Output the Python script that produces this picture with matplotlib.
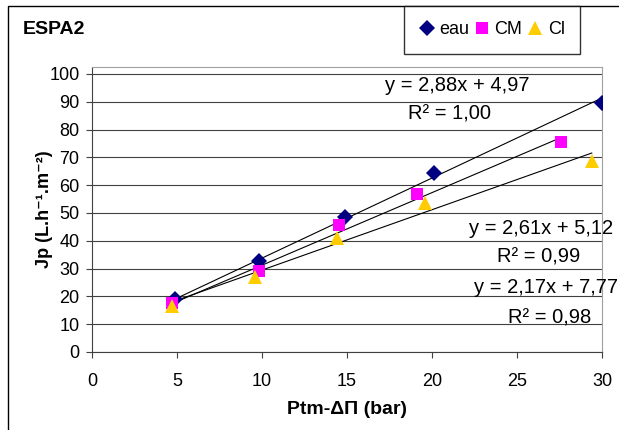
import numpy as np
import matplotlib
matplotlib.use("Agg")
import matplotlib.pyplot as plt
from matplotlib.patches import Rectangle

plt.rcParams['font.family'] = ['Liberation Sans', 'DejaVu Sans']

# data
series = ["eau", "CM", "Cl"]
x_eau = [4.9, 9.8, 14.9, 20.1, 30.0]
y_eau = [19.0, 32.9, 48.5, 64.4, 89.6]
x_cm = [4.7, 9.8, 14.5, 19.1, 27.6]
y_cm = [17.8, 29.2, 45.8, 56.7, 75.6]
x_cl = [4.7, 9.6, 14.4, 19.6, 29.4]
y_cl = [16.6, 26.8, 41.0, 53.5, 68.8]

slopes = [2.88, 2.61, 2.17]
intercepts = [4.97, 5.12, 7.77]
eq_labels = ["y = 2,88x + 4,97", "y = 2,61x + 5,12", "y = 2,17x + 7,77"]
r2_labels = ["R² = 1,00", "R² = 0,99", "R² = 0,98"]

colors = ["#000080", "#FF00FF", "#FFCC00"]
markers = ["D", "s", "^"]
msizes = [8, 8, 10]

fig = plt.figure(figsize=(6.19, 4.30), dpi=100)
ax = fig.add_axes([92 / 619, 1 - 352 / 430, 510 / 619, 285 / 430])

xs = [x_eau, x_cm, x_cl]
ys = [y_eau, y_cm, y_cl]
handles = []
for i in range(3):
    x = np.array(xs[i])
    xl = np.array([x.min(), x.max()])
    ax.plot(xl, slopes[i] * xl + intercepts[i], color="black", lw=0.8, zorder=2)
for i in range(3):
    h, = ax.plot(xs[i], ys[i], linestyle="none", marker=markers[i], color=colors[i],
                 markersize=msizes[i], markeredgewidth=0, zorder=3, label=series[i])
    handles.append(h)

ax.set_xlim(0, 30)
ax.set_ylim(0, 102.5)
ax.set_xticks(range(0, 31, 5))
ax.set_yticks(range(0, 101, 10))
ax.tick_params(labelsize=13, direction="out", length=4, color="#404040")
ax.tick_params(axis="x", pad=11)
ax.tick_params(axis="y", pad=5)
ax.yaxis.grid(True, color="#404040", lw=0.8)
ax.set_axisbelow(True)
for s in ["top", "right"]:
    ax.spines[s].set_color("#a0a0a0")
for s in ["left", "bottom"]:
    ax.spines[s].set_color("#404040")

ax.set_xlabel("Ptm-ΔΠ (bar)", fontsize=14, fontweight="bold", labelpad=8)
ax.set_ylabel("Jp (L.h⁻¹.m⁻²)", fontsize=13, fontweight="bold", labelpad=-3)

# trendline equations
eq_pos = [(21.5, 95.7), (26.4, 44.4), (26.7, 23.1)]
r2_pos = [(21.0, 85.6), (26.3, 34.3), (26.9, 12.3)]
for i in range(3):
    ax.text(eq_pos[i][0], eq_pos[i][1], eq_labels[i], fontsize=14.5, ha="center", va="center",
            clip_on=False)
    ax.text(r2_pos[i][0], r2_pos[i][1], r2_labels[i], fontsize=14.5, ha="center", va="center",
            clip_on=False)

# outer chart frame
fig.patches.append(Rectangle((8 / 619, -0.05), 1.0, 1 - 6 / 430 + 0.05, transform=fig.transFigure,
                             fill=False, edgecolor="black", lw=1))
fig.text(23 / 619, 1 - 30 / 430, "ESPA2", fontsize=14, fontweight="bold", va="center")

leg = fig.legend(handles=handles, ncol=3, loc="upper left", bbox_to_anchor=(404 / 619, 1 - 6 / 430),
                 fontsize=13, frameon=True, fancybox=False, edgecolor="black", handlelength=0.8,
                 handletextpad=0.3, columnspacing=0.3, borderpad=0.85, borderaxespad=0)
leg.get_frame().set_linewidth(1)

fig.savefig("out.png", dpi=100)
